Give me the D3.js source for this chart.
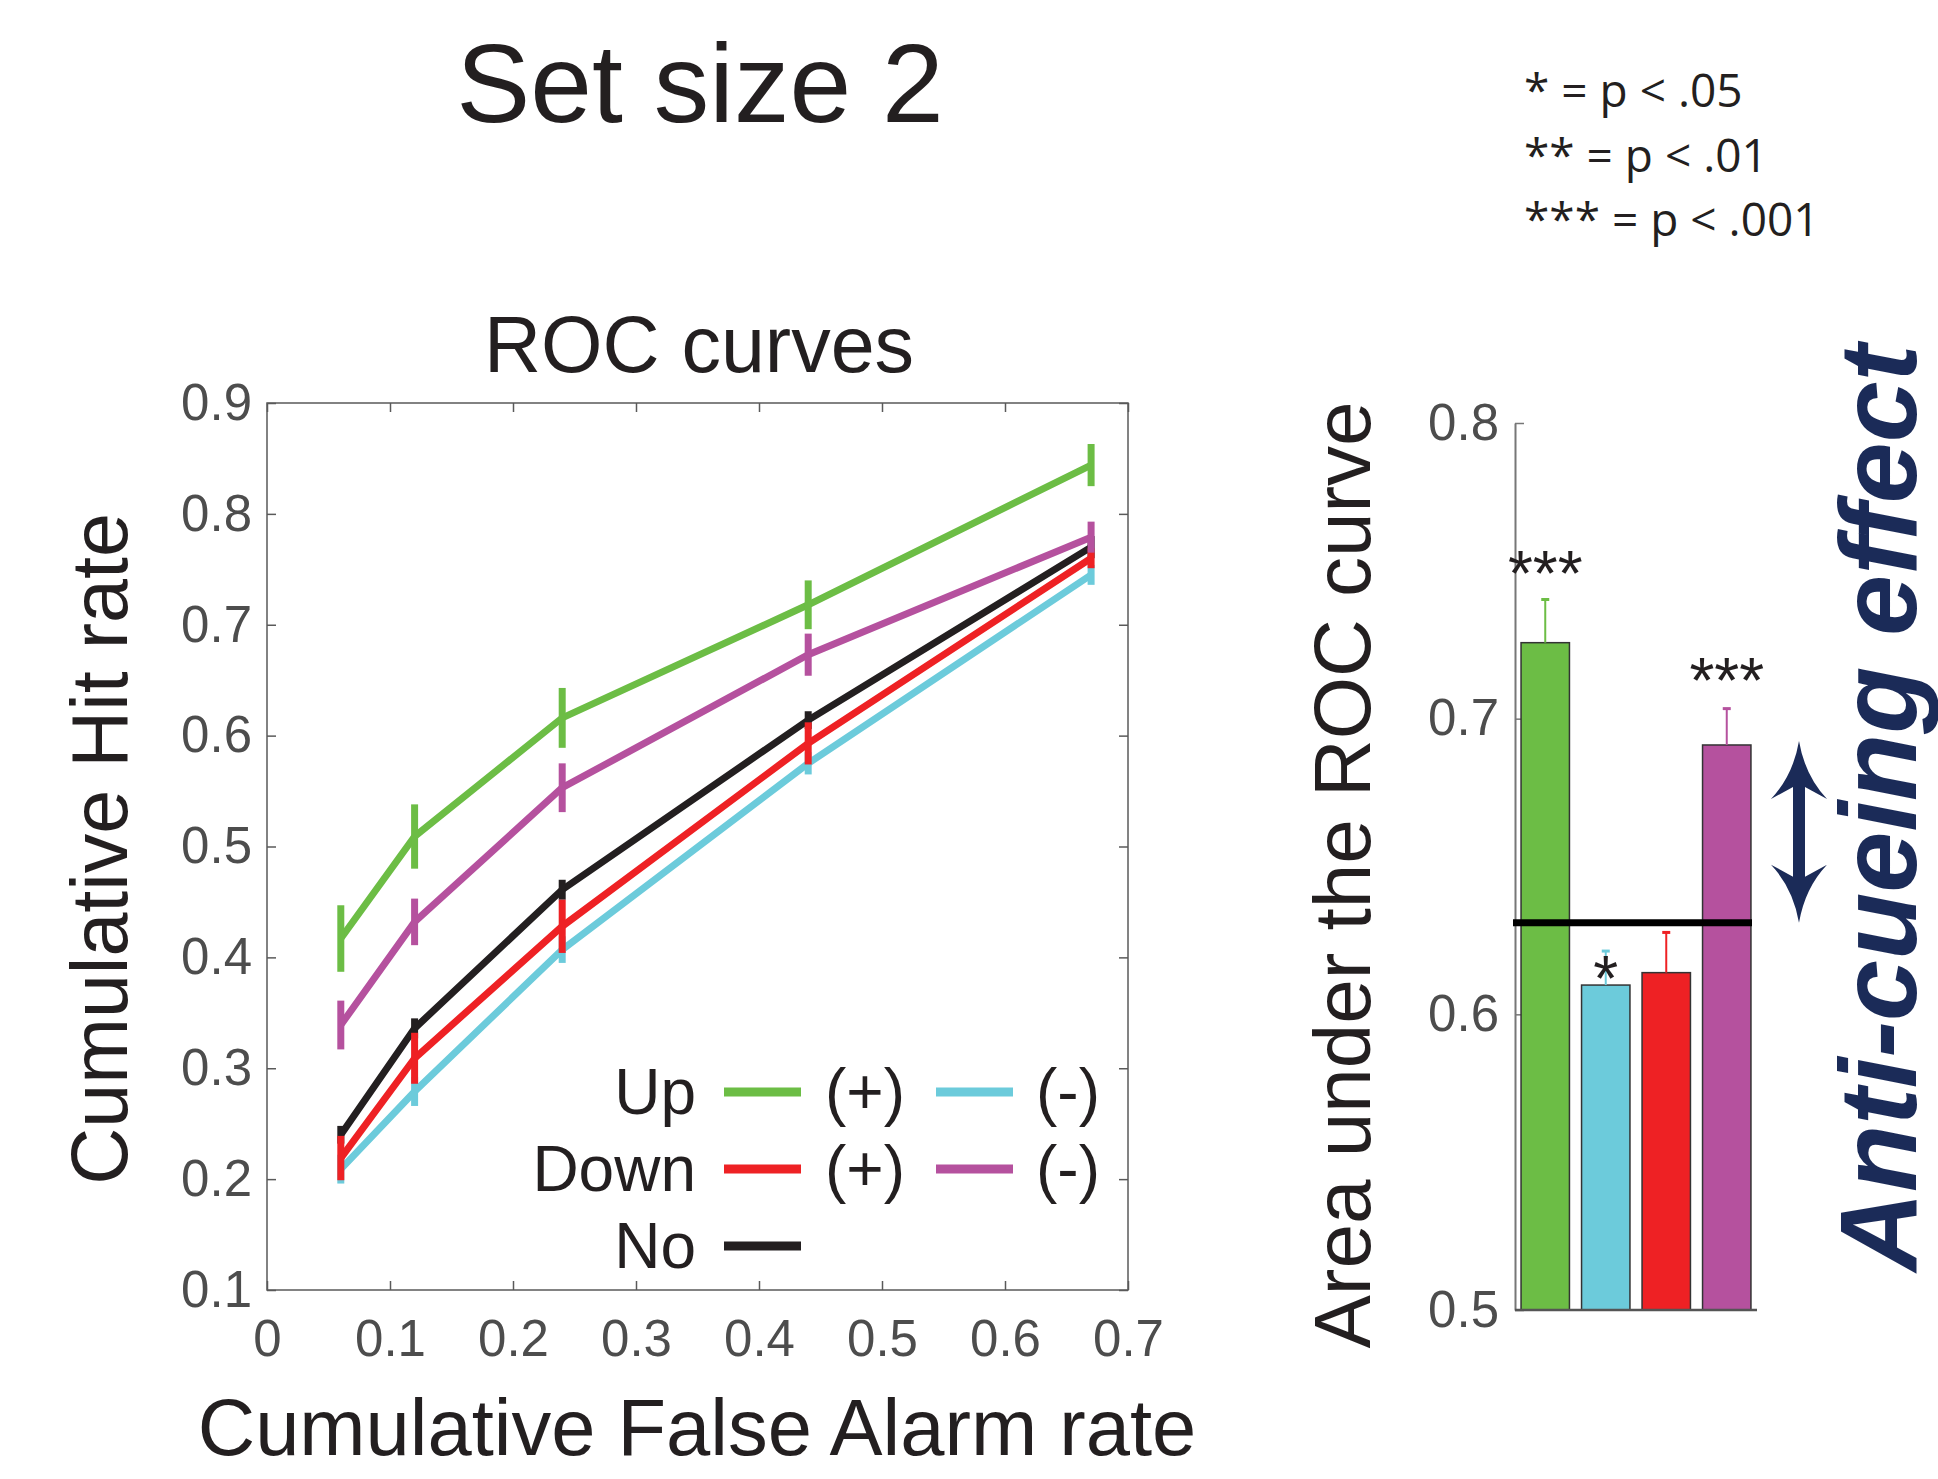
<!DOCTYPE html>
<html><head><meta charset="utf-8">
<script src="https://cdn.jsdelivr.net/npm/d3@7"></script>
<style>body{margin:0;background:#fff} svg{display:block}</style>
</head><body>
<svg id="c" width="1938" height="1479"></svg>
<script>
// ---------- data ----------
const faRate = [0.06, 0.12, 0.24, 0.44, 0.67];
const xTickValues = [0, 0.1, 0.2, 0.3, 0.4, 0.5, 0.6, 0.7];
const yTickValues = [0.1, 0.2, 0.3, 0.4, 0.5, 0.6, 0.7, 0.8, 0.9];

const hitUpPlus    = [0.417, 0.509, 0.616, 0.718, 0.844];
const errUpPlus    = [0.030, 0.029, 0.027, 0.022, 0.019];
const hitUpMinus   = [0.209, 0.279, 0.407, 0.575, 0.745];
const errUpMinus   = [0.013, 0.013, 0.012, 0.010, 0.009];
const hitDownPlus  = [0.219, 0.309, 0.428, 0.593, 0.760];
const errDownPlus  = [0.020, 0.023, 0.024, 0.019, 0.009];
const hitDownMinus = [0.339, 0.432, 0.553, 0.673, 0.779];
const errDownMinus = [0.022, 0.021, 0.022, 0.019, 0.014];
const hitNoCue     = [0.240, 0.336, 0.461, 0.614, 0.770];
const errNoCue     = [0.008, 0.009, 0.009, 0.008, 0.010];

const barCategories = ["Up (+)", "Up (-)", "Down (+)", "Down (-)"];
const barAUC = [0.7257, 0.6099, 0.6141, 0.6911];
const barErr = [0.0146, 0.0115, 0.0136, 0.0123];
const barSig = ["***", "*", "", "***"];
const barSigAnchor = [0.7415, 0.6045, null, 0.7053];
const noCueAUC = 0.631;
const barTickValues = [0.5, 0.6, 0.7, 0.8];
const pLegend = ["* = p < .05", "** = p < .01", "*** = p < .001"];

// ---------- styles ----------
const C = {green:"#6cbd45", cyan:"#6ccbdb", red:"#ee2124", magenta:"#b5519e", black:"#231f20", navy:"#1b2b58"};
const series = [
  {name:"Up (-)", v:hitUpMinus, e:errUpMinus, c:C.cyan},
  {name:"No", v:hitNoCue, e:errNoCue, c:C.black},
  {name:"Down (+)", v:hitDownPlus, e:errDownPlus, c:C.red},
  {name:"Down (-)", v:hitDownMinus, e:errDownMinus, c:C.magenta},
  {name:"Up (+)", v:hitUpPlus, e:errUpPlus, c:C.green}
];
const barColors = [C.green, C.cyan, C.red, C.magenta];
const FONT = "'Liberation Sans', Arial, Helvetica, sans-serif";
const svg = d3.select("#c");

// ---------- ROC panel ----------
const x = d3.scaleLinear().domain([0, 0.7]).range([267, 1128]);
const y = d3.scaleLinear().domain([0.1, 0.9]).range([1290, 403]);
const axCol = "#5a5a5a";

function styleAxis(g, showLabels){
  g.select(".domain").remove();
  g.selectAll(".tick line").attr("stroke", axCol).attr("stroke-width", 1.5);
  g.selectAll(".tick text").attr("fill", "#4d4d4d").style("font-family", FONT).style("font-size", "51px");
  if(!showLabels) g.selectAll(".tick text").remove();
}
svg.append("g").attr("transform", `translate(0,${y.range()[0]})`)
  .call(d3.axisBottom(x).tickValues(xTickValues).tickSizeInner(-9).tickSizeOuter(0).tickPadding(30).tickFormat(d => String(d)))
  .call(g => styleAxis(g, true));
svg.append("g").attr("transform", `translate(0,${y.range()[1]})`)
  .call(d3.axisTop(x).tickValues(xTickValues).tickSizeInner(-9).tickSizeOuter(0))
  .call(g => styleAxis(g, false));
svg.append("g").attr("transform", `translate(${x.range()[0]},0)`)
  .call(d3.axisLeft(y).tickValues(yTickValues).tickSizeInner(-9).tickSizeOuter(0).tickPadding(15).tickFormat(d => String(d)))
  .call(g => styleAxis(g, true));
svg.append("g").attr("transform", `translate(${x.range()[1]},0)`)
  .call(d3.axisRight(y).tickValues(yTickValues).tickSizeInner(-9).tickSizeOuter(0))
  .call(g => styleAxis(g, false));
svg.append("rect").attr("x", x.range()[0]).attr("y", y.range()[1])
  .attr("width", x.range()[1]-x.range()[0]).attr("height", y.range()[0]-y.range()[1])
  .attr("fill", "none").attr("stroke", axCol).attr("stroke-width", 1.5);

const line = d3.line().x((d, i) => x(faRate[i])).y(d => y(d));
const gS = svg.append("g");
series.forEach(s => {
  gS.append("path").datum(s.v).attr("d", line).attr("fill", "none")
    .attr("stroke", s.c).attr("stroke-width", 7);
  gS.append("g").selectAll("line").data(s.v).join("line")
    .attr("x1", (d, i) => x(faRate[i])).attr("x2", (d, i) => x(faRate[i]))
    .attr("y1", (d, i) => y(d - s.e[i])).attr("y2", (d, i) => y(d + s.e[i]))
    .attr("stroke", s.c).attr("stroke-width", 7);
});

// legend
const legendRows = [
  {label:"Up", items:[{t:"(+)", c:C.green}, {t:"(-)", c:C.cyan}]},
  {label:"Down", items:[{t:"(+)", c:C.red}, {t:"(-)", c:C.magenta}]},
  {label:"No", items:[{t:"", c:C.black}]}
];
const gL = svg.append("g").style("font-family", FONT).style("font-size", "64px").attr("fill", C.black);
legendRows.forEach((r, ri) => {
  const ly = 1092 + ri * 77;
  gL.append("text").attr("x", 696).attr("y", ly + 22).attr("text-anchor", "end").text(r.label);
  r.items.forEach((it, ii) => {
    const x0 = 724 + ii * 212;
    gL.append("line").attr("x1", x0).attr("x2", x0 + 77).attr("y1", ly).attr("y2", ly)
      .attr("stroke", it.c).attr("stroke-width", 9);
    if(it.t) gL.append("text").attr("x", x0 + 141 - ii * 9).attr("y", ly + 22).attr("text-anchor", "middle").text(it.t);
  });
});

// titles
svg.append("text").attr("x", 700).attr("y", 122).attr("text-anchor", "middle")
  .style("font-family", FONT).style("font-size", "111px").attr("fill", C.black).text("Set size 2");
svg.append("text").attr("x", 699).attr("y", 372).attr("text-anchor", "middle")
  .style("font-family", FONT).style("font-size", "79px").attr("fill", C.black).text("ROC curves");
svg.append("text").attr("x", 697).attr("y", 1455).attr("text-anchor", "middle")
  .style("font-family", FONT).style("font-size", "79.5px").attr("fill", C.black).text("Cumulative False Alarm rate");
svg.append("text").attr("transform", "translate(127,849) rotate(-90)").attr("text-anchor", "middle")
  .style("font-family", FONT).style("font-size", "79px").attr("fill", C.black).text("Cumulative Hit rate");

// ---------- AUC bar panel ----------
const xb = d3.scaleBand().domain(barCategories).range([1515, 1757]).paddingInner(0.2).paddingOuter(0.1);
const yb = d3.scaleLinear().domain([0.5, 0.8]).range([1310, 423]);

svg.append("g").attr("transform", `translate(${xb.range()[0]},0)`)
  .call(d3.axisLeft(yb).tickValues(barTickValues).tickSizeInner(-9).tickSizeOuter(0).tickPadding(16).tickFormat(d => String(d)))
  .call(g => {
    g.select(".domain").attr("stroke", "#777").attr("stroke-width", 2);
    g.selectAll(".tick line").attr("stroke", "#777").attr("stroke-width", 1.5);
    g.selectAll(".tick text").attr("fill", "#4d4d4d").style("font-family", FONT).style("font-size", "51px");
  });

const gB = svg.append("g");
gB.selectAll("rect").data(barCategories).join("rect")
  .attr("x", d => xb(d)).attr("y", (d, i) => yb(barAUC[i]))
  .attr("width", xb.bandwidth()).attr("height", (d, i) => yb(0.5) - yb(barAUC[i]))
  .attr("fill", (d, i) => barColors[i]).attr("stroke", "#333").attr("stroke-width", 1.5);
gB.selectAll("line.err").data(barCategories).join("line").attr("class", "err")
  .attr("x1", d => xb(d) + xb.bandwidth()/2).attr("x2", d => xb(d) + xb.bandwidth()/2)
  .attr("y1", (d, i) => yb(barAUC[i])).attr("y2", (d, i) => yb(barAUC[i] + barErr[i]))
  .attr("stroke", (d, i) => barColors[i]).attr("stroke-width", 2);
gB.selectAll("line.cap").data(barCategories).join("line").attr("class", "cap")
  .attr("x1", d => xb(d) + xb.bandwidth()/2 - 4).attr("x2", d => xb(d) + xb.bandwidth()/2 + 4)
  .attr("y1", (d, i) => yb(barAUC[i] + barErr[i])).attr("y2", (d, i) => yb(barAUC[i] + barErr[i]))
  .attr("stroke", (d, i) => barColors[i]).attr("stroke-width", 3);
// bottom axis line
svg.append("line").attr("x1", xb.range()[0]).attr("x2", xb.range()[1])
  .attr("y1", yb(0.5)).attr("y2", yb(0.5)).attr("stroke", "#555").attr("stroke-width", 2.5);
// no-cue reference line
svg.append("line").attr("x1", xb.range()[0] - 2).attr("x2", xb.range()[1] - 5)
  .attr("y1", yb(noCueAUC)).attr("y2", yb(noCueAUC)).attr("stroke", "#000").attr("stroke-width", 7);
// significance stars
gB.selectAll("text.sig").data(barCategories.filter((d, i) => barSig[i] !== "")).join("text").attr("class", "sig")
  .attr("x", d => xb(d) + xb.bandwidth()/2)
  .attr("y", d => yb(barSigAnchor[barCategories.indexOf(d)]))
  .attr("text-anchor", "middle").style("font-family", FONT).style("font-size", "64px")
  .attr("fill", C.black).text(d => barSig[barCategories.indexOf(d)]);

svg.append("text").attr("transform", "translate(1370,875) rotate(-90)").attr("text-anchor", "middle")
  .style("font-family", FONT).style("font-size", "80px").attr("fill", C.black).text("Area under the ROC curve");

// anti-cueing arrow
{
  const cx = 1799, y1 = yb(barAUC[3]) - 4, y2 = yb(noCueAUC), L = 58, W = 28, s = 6;
  const p = `M${cx},${y1} Q${cx+6},${y1+L*0.6} ${cx+W},${y1+L} L${cx+s},${y1+L-12} L${cx+s},${y2-L+12} L${cx+W},${y2-L}
    Q${cx+6},${y2-L*0.6} ${cx},${y2} Q${cx-6},${y2-L*0.6} ${cx-W},${y2-L} L${cx-s},${y2-L+12} L${cx-s},${y1+L-12}
    L${cx-W},${y1+L} Q${cx-6},${y1+L*0.6} ${cx},${y1} Z`;
  svg.append("path").attr("d", p).attr("fill", C.navy);
}
svg.append("text").attr("transform", "translate(1916,808) rotate(-90)").attr("text-anchor", "middle")
  .style("font-family", FONT).style("font-size", "110px").style("font-weight", "bold").style("font-style", "italic")
  .attr("fill", C.navy).text("Anti-cueing effect");

// p-value legend
svg.append("g").selectAll("text").data(pLegend).join("text")
  .attr("x", 1524).attr("y", (d, i) => 107 + i * 64.5)
  .style("font-family", "'Open Sans', sans-serif").style("font-size", "46px").attr("fill", C.black)
  .text(d => d);
</script>
</body></html>
